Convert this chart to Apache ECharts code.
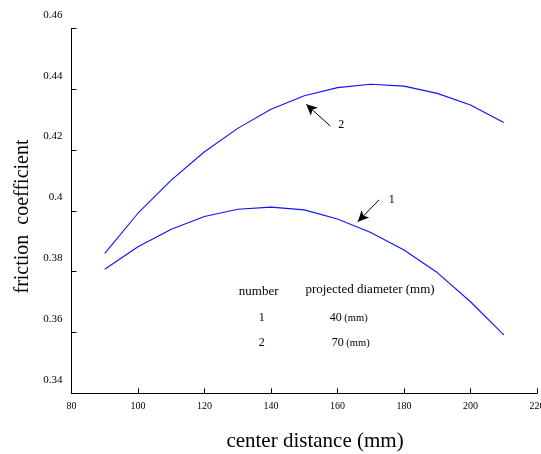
<!DOCTYPE html>
<html>
<head>
<meta charset="utf-8">
<script src="https://cdn.jsdelivr.net/npm/echarts@6/dist/echarts.min.js"></script>
<style>html,body{margin:0;padding:0;background:#fff}#c{width:541px;height:454px}</style>
</head>
<body>
<div id="c"></div>
<script>
var xValues = [90, 100, 110, 120, 130, 140, 150, 160, 170, 180, 190, 200, 210];
var series1 = [0.3808, 0.3882, 0.3939, 0.3981, 0.4005, 0.4012, 0.4003, 0.3973, 0.3929, 0.3871, 0.3797, 0.3701, 0.3592];
var series2 = [0.3860, 0.3992, 0.4101, 0.4194, 0.4271, 0.4334, 0.4378, 0.4405, 0.4416, 0.4410, 0.4386, 0.4348, 0.4290];
var yTicks = ['0.34', '0.36', '0.38', '0.4', '0.42', '0.44', '0.46'];
var xTicks = ['80', '100', '120', '140', '160', '180', '200', '220'];
var arrow1 = [[172.5, 0.4036], [166.1, 0.3964]];
var arrow2 = [[157.8, 0.4279], [150.6, 0.4350]];
var label1 = [176.3, 0.4036];
var label2 = [161.1, 0.4284];
var tableHeader = ['number', 'projected diameter (mm)'];
var tableNumbers = ['1', '2'];
var tableDiameters = ['40', '70'];

function zip(xs, ys) { return xs.map(function (x, i) { return [x, ys[i]]; }); }

var font = 'Liberation Serif, Times New Roman, serif';
var chart = echarts.init(document.getElementById('c'), null, {renderer: 'canvas'});

function arrowLine(pts) {
  return {
    silent: true,
    symbol: ['none', 'arrow'],
    symbolSize: [8, 11],
    label: {show: false},
    emphasis: {disabled: true},
    lineStyle: {color: '#000', width: 1, type: 'solid'},
    data: [[{coord: pts[0]}, {coord: pts[1]}]]
  };
}
function labelPoint(pt, txt) {
  return {
    silent: true,
    symbol: 'circle', symbolSize: 0,
    label: {show: true, position: 'inside', formatter: txt, color: '#000', fontFamily: font, fontSize: 12},
    data: [{coord: pt}]
  };
}

var option = {
  backgroundColor: '#fff',
  animation: false,
  grid: {left: 71.5, right: 4, top: 28.3, bottom: 60.7, containLabel: false, outerBoundsMode: 'none'},
  xAxis: {
    type: 'value', min: 80, max: 220, interval: 20,
    axisLine: {show: true, lineStyle: {color: '#000', width: 1}},
    axisTick: {show: true, inside: true, length: 5, lineStyle: {color: '#000'}},
    axisLabel: {color: '#000', fontFamily: font, fontSize: 10, margin: 8, hideOverlap: false,
      showMinLabel: true, showMaxLabel: true,
      formatter: function (v) { return xTicks[Math.round((v - 80) / 20)]; }},
    splitLine: {show: false}
  },
  yAxis: {
    type: 'value', min: 0.34, max: 0.46, interval: 0.02,
    axisLine: {show: true, lineStyle: {color: '#000', width: 1}},
    axisTick: {show: true, inside: true, length: 5, lineStyle: {color: '#000'}},
    axisLabel: {color: '#000', fontFamily: font, fontSize: 11, margin: 9,
      verticalAlign: 'bottom', padding: [0, 0, 8, 0],
      formatter: function (v) { return yTicks[Math.round((v - 0.34) / 0.02)]; }},
    splitLine: {show: false}
  },
  series: [
    {type: 'line', data: zip(xValues, series1), symbol: 'none', smooth: false, emphasis: {disabled: true},
      lineStyle: {color: '#1010ff', width: 1.1}, markLine: arrowLine(arrow1), markPoint: labelPoint(label1, '1')},
    {type: 'line', data: zip(xValues, series2), symbol: 'none', smooth: false, emphasis: {disabled: true},
      lineStyle: {color: '#1010ff', width: 1.1}, markLine: arrowLine(arrow2), markPoint: labelPoint(label2, '2')}
  ],
  graphic: [
    {type: 'text', x: 315, y: 441, style: {text: 'center distance (mm)', font: '21px ' + font, fill: '#000', align: 'center', verticalAlign: 'middle'}},
    {type: 'text', rotation: Math.PI / 2, x: 23, y: 216.5,
      style: {text: 'friction  coefficient', font: '20px ' + font, fill: '#000', align: 'center', verticalAlign: 'middle'}},
    {type: 'text', x: 258.7, y: 292, style: {text: tableHeader[0], font: '13px ' + font, fill: '#000', align: 'center', verticalAlign: 'middle'}},
    {type: 'text', x: 370, y: 290, style: {text: tableHeader[1], font: '13px ' + font, fill: '#000', align: 'center', verticalAlign: 'middle'}},
    {type: 'text', x: 261.7, y: 318.3, style: {text: tableNumbers[0], font: '12px ' + font, fill: '#000', align: 'center', verticalAlign: 'middle'}},
    {type: 'text', x: 261.7, y: 342.7, style: {text: tableNumbers[1], font: '12px ' + font, fill: '#000', align: 'center', verticalAlign: 'middle'}},
    {type: 'text', x: 348.7, y: 318.3, style: {text: '{a|' + tableDiameters[0] + '}{b| (mm)}', align: 'center', verticalAlign: 'middle',
      rich: {a: {fontFamily: font, fontSize: 12, fill: '#000'}, b: {fontFamily: font, fontSize: 10.5, fill: '#000'}}}},
    {type: 'text', x: 350.7, y: 343.3, style: {text: '{a|' + tableDiameters[1] + '}{b| (mm)}', align: 'center', verticalAlign: 'middle',
      rich: {a: {fontFamily: font, fontSize: 12, fill: '#000'}, b: {fontFamily: font, fontSize: 10.5, fill: '#000'}}}}
  ]
};
chart.setOption(option);
</script>
</body>
</html>
